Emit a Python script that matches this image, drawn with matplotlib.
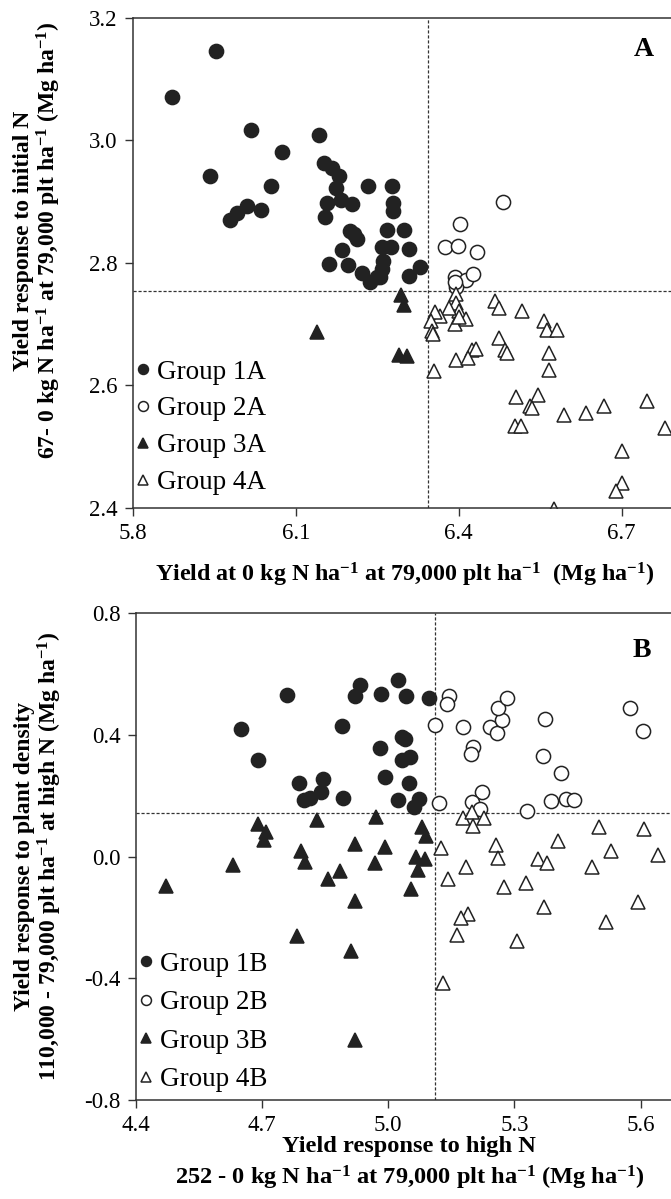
import matplotlib
matplotlib.use("Agg")
import matplotlib.pyplot as plt

plt.rcParams["font.family"] = ["Liberation Serif", "DejaVu Serif"]
plt.rcParams["mathtext.default"] = "regular"
plt.rcParams["axes.unicode_minus"] = False

# ---- panel A data (yield at 0 N vs response to initial N) ----
g1a_x = [5.872, 5.953, 5.942, 6.018, 6.074, 6.055, 5.978, 5.991, 6.010, 6.036,
         6.142, 6.152, 6.166, 6.179, 6.173, 6.183, 6.204, 6.158, 6.153, 6.232,
         6.199, 6.212, 6.207, 6.185, 6.161, 6.196, 6.222, 6.236, 6.250, 6.277,
         6.279, 6.279, 6.268, 6.299, 6.258, 6.276, 6.308, 6.260, 6.258, 6.255,
         6.328, 6.308]
g1a_y = [3.070, 3.145, 2.941, 3.016, 2.980, 2.925, 2.870, 2.881, 2.892, 2.886,
         3.009, 2.963, 2.955, 2.941, 2.922, 2.903, 2.896, 2.898, 2.875, 2.925,
         2.852, 2.839, 2.847, 2.821, 2.798, 2.796, 2.784, 2.768, 2.776, 2.926,
         2.898, 2.884, 2.854, 2.854, 2.825, 2.826, 2.823, 2.803, 2.790, 2.776,
         2.793, 2.779]
g2a_x = [6.482, 6.403, 6.374, 6.398, 6.434, 6.393, 6.413, 6.426, 6.394, 6.393]
g2a_y = [2.899, 2.864, 2.826, 2.827, 2.818, 2.777, 2.772, 2.782, 2.761, 2.768]
g3a_x = [6.139, 6.293, 6.299, 6.290, 6.305]
g3a_y = [2.687, 2.748, 2.731, 2.649, 2.648]
g4a_x = [6.394, 6.395, 6.400, 6.382, 6.366, 6.356, 6.348, 6.351, 6.352, 6.393,
         6.413, 6.401, 6.466, 6.475, 6.517, 6.557, 6.563, 6.581, 6.474, 6.486,
         6.489, 6.425, 6.431, 6.394, 6.417, 6.354, 6.567, 6.567, 6.506, 6.545,
         6.532, 6.534, 6.504, 6.514, 6.593, 6.634, 6.668, 6.747, 6.780, 6.701,
         6.701, 6.690, 6.575]
g4a_y = [2.749, 2.735, 2.721, 2.727, 2.713, 2.719, 2.705, 2.689, 2.684, 2.700,
         2.708, 2.712, 2.738, 2.726, 2.722, 2.705, 2.691, 2.690, 2.677, 2.657,
         2.653, 2.658, 2.660, 2.642, 2.645, 2.624, 2.653, 2.625, 2.581, 2.584,
         2.566, 2.563, 2.533, 2.534, 2.552, 2.555, 2.566, 2.575, 2.530, 2.493,
         2.440, 2.427, 2.399]
a_vline = 6.343
a_hline = 2.754

# ---- panel B data (response to high N vs response to plant density) ----
g1b_x = [4.650, 4.689, 4.759, 4.788, 4.800, 4.814, 4.839, 4.845, 4.890, 4.893,
         4.921, 4.932, 4.983, 5.023, 5.042, 5.098, 4.980, 5.032, 5.040, 5.033,
         5.052, 4.992, 5.050, 5.024, 5.074, 5.061]
g1b_y = [0.418, 0.319, 0.530, 0.242, 0.187, 0.194, 0.212, 0.255, 0.430, 0.194,
         0.528, 0.564, 0.536, 0.580, 0.528, 0.520, 0.356, 0.393, 0.388, 0.317,
         0.328, 0.262, 0.242, 0.187, 0.189, 0.163]
g2b_x = [5.144, 5.140, 5.111, 5.178, 5.202, 5.197, 5.242, 5.258, 5.270, 5.262,
         5.283, 5.373, 5.367, 5.411, 5.576, 5.605, 5.121, 5.224, 5.198, 5.218,
         5.386, 5.422, 5.442, 5.331]
g2b_y = [0.529, 0.503, 0.432, 0.426, 0.360, 0.339, 0.426, 0.405, 0.448, 0.487,
         0.523, 0.451, 0.330, 0.276, 0.490, 0.412, 0.176, 0.214, 0.179, 0.157,
         0.183, 0.190, 0.187, 0.150]
g3b_x = [4.691, 4.709, 4.705, 4.831, 4.970, 5.079, 5.090, 4.792, 4.802, 4.921,
         4.992, 4.631, 4.471, 4.885, 4.857, 4.968, 5.066, 5.087, 5.071, 5.054,
         4.921, 4.784, 4.911, 4.921]
g3b_y = [0.108, 0.080, 0.055, 0.119, 0.130, 0.097, 0.067, 0.020, -0.018, 0.040,
         0.031, -0.029, -0.095, -0.048, -0.073, -0.022, -0.002, -0.007, -0.043,
         -0.108, -0.145, -0.262, -0.309, -0.603]
g4b_x = [5.178, 5.198, 5.202, 5.228, 5.125, 5.143, 5.185, 5.256, 5.260, 5.275,
         5.327, 5.356, 5.378, 5.404, 5.371, 5.500, 5.529, 5.484, 5.608, 5.641,
         5.593, 5.518, 5.305, 5.189, 5.174, 5.164, 5.129]
g4b_y = [0.127, 0.146, 0.102, 0.127, 0.028, -0.073, -0.033, 0.037, -0.004, -0.101,
         -0.088, -0.007, -0.020, 0.053, -0.167, 0.097, 0.020, -0.035, 0.092, 0.004,
         -0.150, -0.216, -0.276, -0.188, -0.203, -0.258, -0.417]
b_vline = 5.110
b_hline = 0.143

INK = "#222222"
SPINE = "#333333"


def style_axes(ax):
    for side in ("left", "bottom", "top", "right"):
        ax.spines[side].set_color(SPINE)
        ax.spines[side].set_linewidth(1.1)
    ax.tick_params(direction="out", length=6, width=1.0, color=SPINE,
                   labelsize=16.5, pad=5, top=False, right=False)


def scatter_groups(ax, groups, labels, spacing, anchor_y):
    styles = [("o", INK, 10.2), ("o", "white", 10.2), ("^", INK, 10), ("^", "white", 10)]
    for (x, y), lab, (m, fc, ms) in zip(groups, labels, styles):
        ax.plot(x, y, linestyle="none", marker=m, markersize=ms,
                markerfacecolor=fc, markeredgecolor=INK, markeredgewidth=1.1,
                label=lab)
    leg = ax.legend(loc="lower left", bbox_to_anchor=(0.006, anchor_y),
                    frameon=False, fontsize=19.5, markerscale=0.7,
                    handlelength=0.5, handletextpad=0.25,
                    labelspacing=spacing, borderaxespad=0, borderpad=0)
    return leg


fig = plt.figure(figsize=(6.71, 11.99), dpi=100)

# ---------------- panel A ----------------
axA = fig.add_axes([0.1982, 0.5763, 0.8092, 0.4091])
style_axes(axA)
axA.axvline(a_vline, color=SPINE, lw=0.9, ls=(0, (2.5, 1.5)), zorder=1)
axA.axhline(a_hline, color=SPINE, lw=0.9, ls=(0, (2.5, 1.5)), zorder=1)
scatter_groups(axA, [(g1a_x, g1a_y), (g2a_x, g2a_y), (g3a_x, g3a_y), (g4a_x, g4a_y)],
               ["Group 1A", "Group 2A", "Group 3A", "Group 4A"], 0.44, 0.026)
axA.set_xlim(5.8, 6.8)
axA.set_ylim(2.4, 3.2)
axA.set_xticks([5.8, 6.1, 6.4, 6.7])
axA.set_yticks([2.4, 2.6, 2.8, 3.0, 3.2])
axA.xaxis.set_major_formatter(matplotlib.ticker.FormatStrFormatter("%.1f"))
axA.yaxis.set_major_formatter(matplotlib.ticker.FormatStrFormatter("%.1f"))
axA.set_xlabel("Yield at 0 kg N ha$^{-1}$ at 79,000 plt ha$^{-1}$  (Mg ha$^{-1}$)",
               fontsize=17.3, fontweight="bold", labelpad=12)
axA.set_ylabel("Yield response to initial N\n"
               "67- 0 kg N ha$^{-1}$ at 79,000 plt ha$^{-1}$ (Mg ha$^{-1}$)",
               fontsize=17, fontweight="bold", linespacing=1.05)
axA.yaxis.set_label_coords(-0.128, 0.545)
axA.text(0.94, 0.935, "A", transform=axA.transAxes, fontsize=20,
         fontweight="bold", ha="center", va="center")

# ---------------- panel B ----------------
axB = fig.add_axes([0.2027, 0.0826, 0.8146, 0.4059])
style_axes(axB)
axB.axvline(b_vline, color=SPINE, lw=0.9, ls=(0, (2.5, 1.5)), zorder=1)
axB.axhline(b_hline, color=SPINE, lw=0.9, ls=(0, (2.5, 1.5)), zorder=1)
scatter_groups(axB, [(g1b_x, g1b_y), (g2b_x, g2b_y), (g3b_x, g3b_y), (g4b_x, g4b_y)],
               ["Group 1B", "Group 2B", "Group 3B", "Group 4B"], 0.5, 0.016)
axB.set_xlim(4.4, 5.7)
axB.set_ylim(-0.8, 0.8)
axB.set_xticks([4.4, 4.7, 5.0, 5.3, 5.6])
axB.set_yticks([-0.8, -0.4, 0.0, 0.4, 0.8])
axB.xaxis.set_major_formatter(matplotlib.ticker.FormatStrFormatter("%.1f"))
axB.yaxis.set_major_formatter(matplotlib.ticker.FormatStrFormatter("%.1f"))
axB.set_xlabel("Yield response to high N\n"
               "252 - 0 kg N ha$^{-1}$ at 79,000 plt ha$^{-1}$ (Mg ha$^{-1}$)",
               fontsize=17.6, fontweight="bold", labelpad=0, linespacing=1.3)
axB.set_ylabel("Yield response to plant density\n"
               "110,000 - 79,000 plt ha$^{-1}$ at high N (Mg ha$^{-1}$)",
               fontsize=17, fontweight="bold", linespacing=1.05)
axB.yaxis.set_label_coords(-0.132, 0.5)
axB.text(0.925, 0.924, "B", transform=axB.transAxes, fontsize=20,
         fontweight="bold", ha="center", va="center")

fig.savefig("out.png", dpi=100)
plt.close(fig)
